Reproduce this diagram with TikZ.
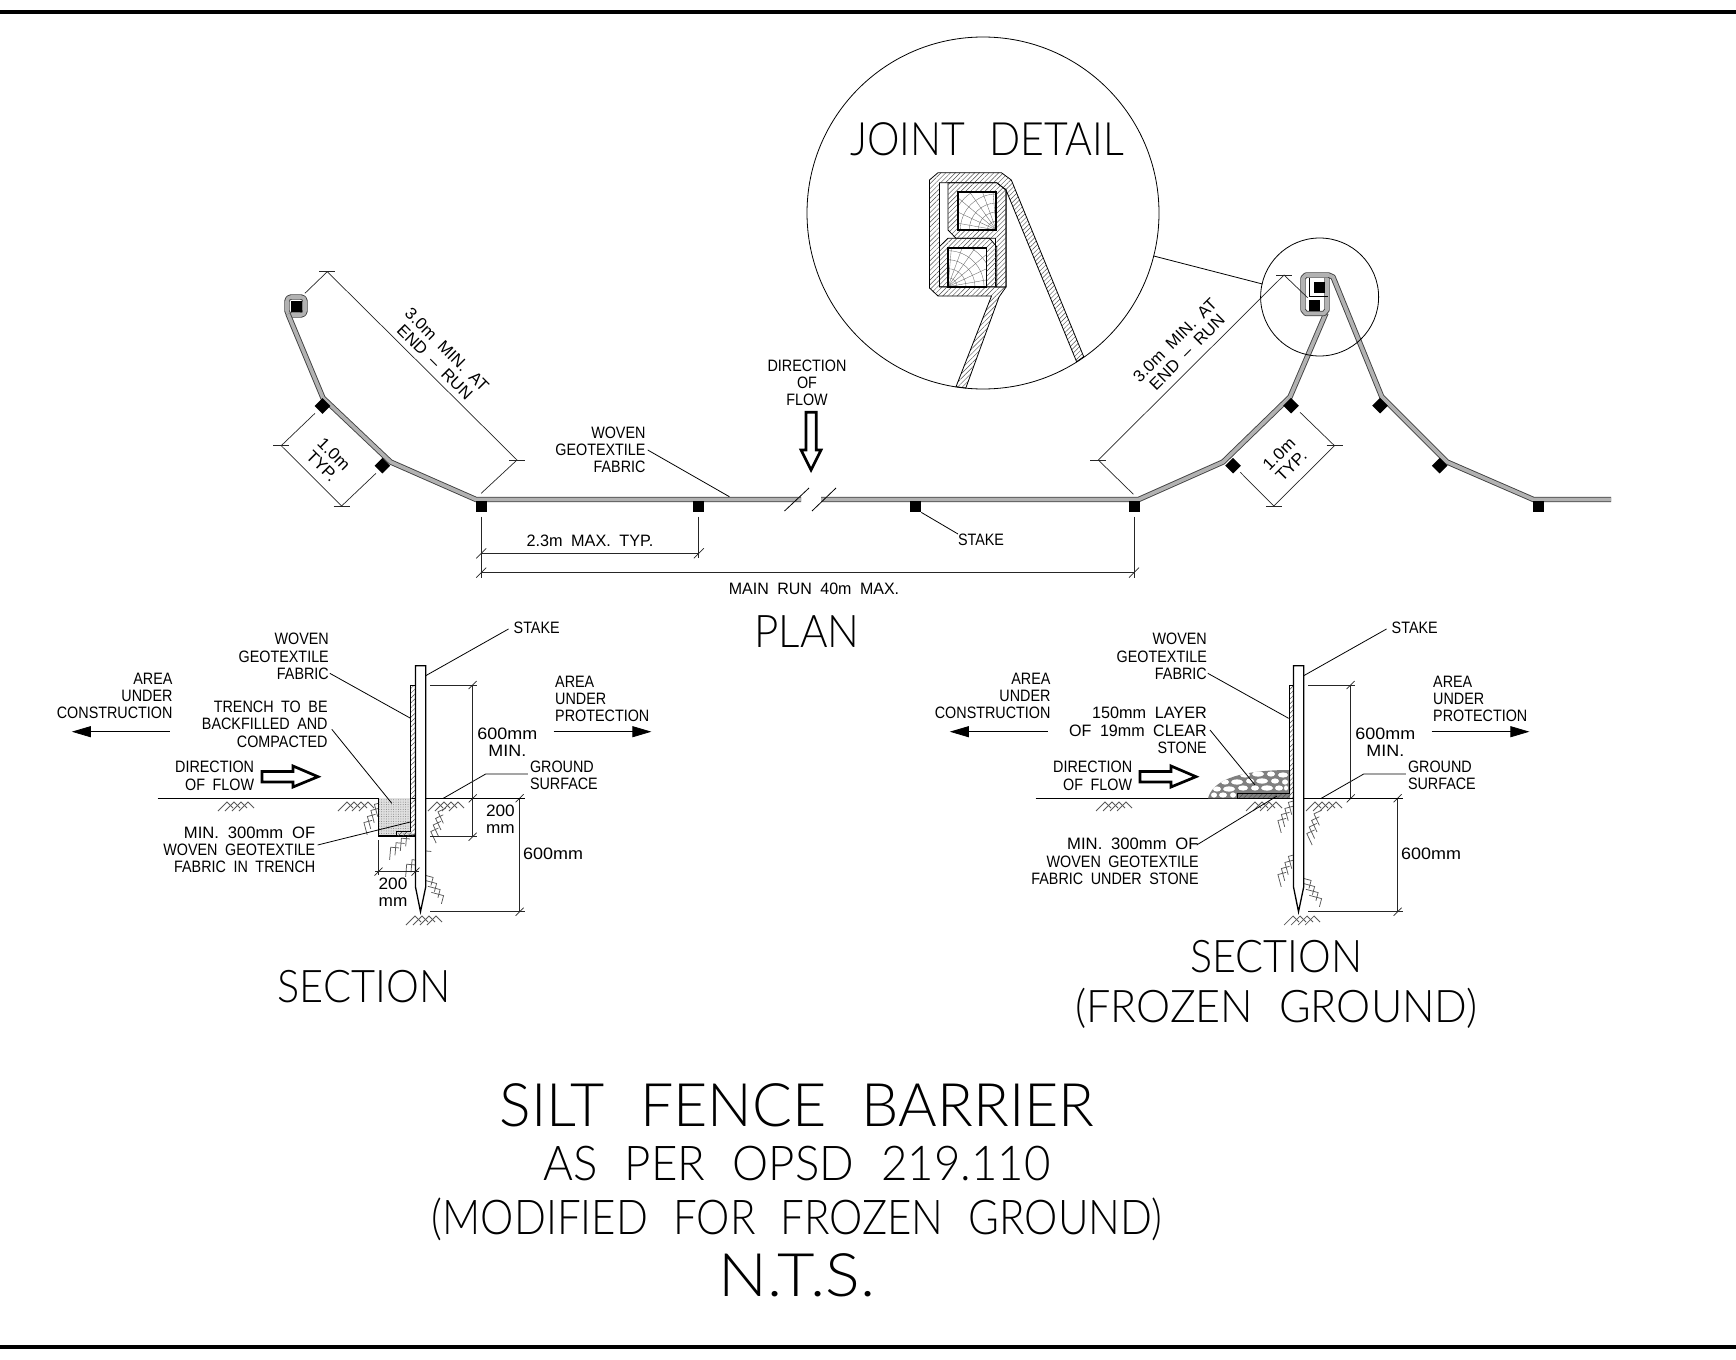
\documentclass[tikz,border=0pt]{standalone}
\usepackage{fontspec}
\setmainfont[FakeStretch=0.87,WordSpace=1.9]{Liberation Sans}
\newfontfamily\titlefont[FakeStretch=0.85,WordSpace=2.2]{Lato Light}
\usetikzlibrary{arrows.meta,patterns.meta}
\newcommand{\widen}[2]{\scalebox{#1}[1]{#2}}
\tikzset{
 lbl/.style={inner sep=0pt,font=\fontsize{16.5}{17.2}\selectfont},
 ttl/.style={inner sep=0pt,font=\titlefont\fontsize{#1}{#1}\selectfont},
 dimline/.style={line width=.7pt,black!85},
 leader/.style={line width=.8pt},
 fenceline/.style={line width=.9pt,black!75,double=black!30,double distance=3.6pt,line join=round},
 fabric/.style={draw,line width=.8pt,pattern={Lines[angle=45,distance=3.4pt,line width=.45pt]},pattern color=black!70},
 stakebox/.style={fill=black,minimum size=11pt,inner sep=0pt},
 stakedia/.style={fill=black,minimum size=11pt,inner sep=0pt,rotate=45},
 flow/.style={line width=2.7pt,miter limit=10,fill=white},
 grain/.style={line width=.35pt,black!60},
 earth/.pic={
  \foreach \i in {0,1,2,3} {
   \draw[line width=.75pt,black!65] (\i*7-16,6) -- ++(9,-9) -- ++(6,6);
  }
 }
}
\begin{document}
\begin{tikzpicture}[x=1pt,y=-1pt]
\useasboundingbox (0,0) rectangle (1736,1359);
% sheet lines
\draw[line width=3.5pt] (0,12) -- (1736,12);
\draw[line width=3.5pt] (0,1347) -- (1736,1347);
% plan
\draw[fenceline,rounded corners=4pt] (287,297) rectangle (305,315);
\draw[fenceline] (288,314) -- (323,398) -- (390.6,462) -- (476,499.5) -- (801,499.5);
\draw[fenceline] (821,499.5) -- (1138.6,499.5) -- (1223,462) -- (1290,397) -- (1326,313);
\draw[fenceline] (1611,499.5) -- (1533.4,499.5) -- (1447,462) -- (1381.7,396.7) -- (1333,277)
 -- (1328.5,275) -- (1306,275) -- (1303,278) -- (1303,310) -- (1306,313.5) -- (1324,313.5)
 -- (1327,310) -- (1327,278);
\draw[line width=.8pt] (1309,278) -- (1309,296) -- (1328,296);
\foreach \n/\x/\y in {endA/296/306,A/481/506.7,B/698.8/506.7,C/915.6/506.7,D/1134/506.7,E/1538.6/506.7,jointA/1319.7/287.3,jointB/1314.5/305}
 \node[stakebox] (stake\n) at (\x,\y) {};
\foreach \n/\x/\y in {A/322.5/406,B/382.4/465.7,C/1233/465.7,D/1291/405.7,E/1380/405.7,F/1439.7/465.7}
 \node[stakedia] (dia\n) at (\x,\y) {};
\draw[leader] (784.5,511) -- (809,488);
\draw[leader] (812,511) -- (836,488);
% plan dimensions
\draw[dimline] (304.9,293.3) -- (327.3,271.7) -- (517,460) -- (481.2,493.3);
\draw[dimline] (315,413.3) -- (281.2,445.7) -- (341.6,506) -- (376,473.3);
\draw[dimline] (1307.6,297.7) -- (1284,275) -- (1098.3,460) -- (1133.4,494.3);
\draw[dimline] (1300,412.3) -- (1334.5,445.7) -- (1273.8,506) -- (1240.3,472.3);
\foreach \x/\y in {327.3/271.7,517/460,281.2/445.7,341.6/506,1284/275,1098.3/460,1334.5/445.7,1273.8/506}
 \draw[dimline] (\x-8,\y) -- (\x+8,\y);
\draw[dimline] (481.2,516.7) -- (481.2,578);
\draw[dimline] (698.8,516.7) -- (698.8,558);
\draw[dimline] (1134,516.7) -- (1134,578);
\draw[dimline] (481.2,553.3) -- (698.8,553.3);
\draw[dimline] (481.2,572.7) -- (1134,572.7);
\foreach \x/\y in {481.2/553.3,698.8/553.3,481.2/572.7,1134/572.7}
 \draw[dimline] (\x-5,\y+5) -- (\x+5,\y-5);
\node[lbl,rotate=-45,align=center] (lblrunA) at (441,356) {\widen{1.17}{3.0m MIN. AT}\\\widen{1.17}{END -- RUN}};
\node[lbl,rotate=45,align=center] (lblrunB) at (1181,346) {\widen{1.17}{3.0m MIN. AT}\\\widen{1.17}{END -- RUN}};
\node[lbl,rotate=-45,align=center] (lbltypA) at (328,460) {\widen{1.2}{1.0m}\\\widen{1.2}{TYP.}};
\node[lbl,rotate=45,align=center] (lbltypB) at (1285,460) {\widen{1.2}{1.0m}\\\widen{1.2}{TYP.}};
\node[lbl,xscale=1.13] (lblmax) at (590,541) {2.3m MAX. TYP.};
\node[lbl,xscale=1.115] (lblmain) at (814,589) {MAIN RUN 40m MAX.};
\node[lbl,anchor=east,align=right] (lblwoven) at (645.7,450) {WOVEN\\GEOTEXTILE\\FABRIC};
\draw[leader] (lblwoven.east)+(2,0) -- (729.4,496.7);
\node[lbl] (lblstake) at (981,540) {STAKE};
\draw[leader] (stakeC.south east) -- (958,534);
\node[lbl,align=center] (lblflow) at (807,382.7) {DIRECTION\\OF\\FLOW};
\draw[flow] (806,412.3) -- (816.3,412.3) -- (816.3,450) -- (821,450) -- (811,470) -- (801,450) -- (806,450) -- cycle;
\node[ttl=45,xscale=1.1] (lblplan) at (807,632) {PLAN};
% joint detail
\draw[line width=.8pt] (983,213) circle (176);
\draw[line width=.8pt] (1319.6,297) circle (59);
\draw[line width=.8pt] (1153.7,256) -- (1262.4,284);
\node[ttl=46,xscale=1.05] (lbljoint) at (987,139) {JOINT DETAIL};
\draw[fabric] (956,386.7) -- (991.5,296) -- (938,296) -- (929.5,288) -- (929.5,180) -- (938,172.7) -- (1001.4,172.7) -- (1011.3,180)
 -- (1083.7,356.7) -- (1076.6,361.7) -- (1006,190) -- (1006,287) -- (999,297) -- (965.8,388) -- cycle;
\draw[fill=white,line width=.8pt] (939.4,182.7) -- (996.7,182.7) -- (1006,190) -- (1006,287) -- (939.4,287) -- cycle;
\draw[fabric] (948,182.7) -- (996.7,182.7) -- (1006,190) -- (1006,287) -- (995.5,287) -- (995.5,238.3) -- (956,238.3) -- (948,230) -- cycle;
\draw[fabric] (939.4,246.7) -- (948,238.3) -- (989.6,238.3) -- (996.7,246.7) -- (996.7,286.7) -- (939.4,286.7) -- cycle;
\fill[white] (958,191.7) rectangle (996.3,230);
\fill[white] (948,248.3) rectangle (986.4,286.7);
\begin{scope}
\clip (958,191.7) rectangle (996.3,230);
\foreach \r in {9,18,...,54} \draw[grain] (996.3,230) circle (\r);
\foreach \a in {190,205,...,265} \draw[grain] (996.3,230) -- ++(\a:60);
\end{scope}
\begin{scope}
\clip (948,248.3) rectangle (986.4,286.7);
\foreach \r in {9,18,...,54} \draw[grain] (948,286.7) circle (\r);
\foreach \a in {275,290,...,355} \draw[grain] (948,286.7) -- ++(\a:60);
\end{scope}
\draw[line width=1.8pt] (958,191.7) rectangle (996.3,230);
\draw[line width=1.8pt] (948,248.3) rectangle (986.4,286.7);
% both sections
\foreach \dx in {0,878} {
\begin{scope}[xshift=\dx pt]
\node[lbl,anchor=east,align=right] (lblfab\dx) at (329,656.5) {WOVEN\\GEOTEXTILE\\FABRIC};
\draw[leader] (329.8,673.3) -- (410.6,718.3);
\node[lbl,anchor=west] (lblst\dx) at (513.5,628) {STAKE};
\draw[leader] (lblst\dx.west)+(-5,1) -- (425.7,675.7);
\node[lbl,anchor=east,align=right] (lblcon\dx) at (172.7,696) {AREA\\UNDER\\CONSTRUCTION};
\node[lbl,anchor=west,align=left] (lblpro\dx) at (555,699) {AREA\\UNDER\\PROTECTION};
\draw[line width=.8pt,-{Triangle[length=19pt,width=11pt]}] (169.8,731.7) -- (71.8,731.7);
\draw[line width=.8pt,-{Triangle[length=19pt,width=11pt]}] (553.5,731.7) -- (651.4,731.7);
\node[lbl,anchor=east,align=right] (lbldir\dx) at (254.3,775.8) {DIRECTION\\OF FLOW};
\draw[flow] (262,771.5) -- (293,771.5) -- (293,766) -- (318,776.7) -- (293,787) -- (293,782) -- (262,782) -- cycle;
\node[lbl,anchor=west,align=left] (lblgr\dx) at (529.8,775.2) {GROUND\\SURFACE};
\draw[leader] (527.8,774) -- (485.7,774) -- (443.3,798.3);
\node[lbl,align=center,xscale=1.25] (lblmin\dx) at (507.3,742) {600mm\\MIN.};
\node[lbl,anchor=west,xscale=1.25] (lblsix\dx) at (522.9,854.3) {600mm};
\draw[dimline] (430,685) -- (476.7,685);
\draw[dimline] (430,911.7) -- (525,911.7);
\draw[dimline] (519.6,798.3) -- (519.6,911.7);
\foreach \x/\y in {472.7/685,472.7/798.3,519.6/798.3,519.6/911.7}
 \draw[dimline] (\x-4,\y+4) -- (\x+4,\y-4);
\end{scope}
}
% section with trench
\foreach \x/\y in {234/805,354/805,444/805,422/919}
 \pic at (\x,\y) {earth};
\foreach \x/\y/\r in {370/818/60,398/845/40,414/862/40,436/826/70,434/885/-60}
 \pic[rotate=\r] at (\x,\y) {earth};
\draw[line width=1pt] (157.5,798.3) -- (525,798.3);
\fill[black!12] (378.3,798.3) rectangle (410,836);
\fill[pattern={Dots[distance=2.4pt,radius=.5pt]},pattern color=black!50] (378.3,798.3) rectangle (410,836);
\draw[line width=1.1pt] (378.3,798.3) -- (378.3,836) -- (415.5,836);
\draw[fabric] (410,685) -- (415.5,685) -- (415.5,836) -- (396.7,836) -- (396.7,831.7) -- (410,831.7) -- cycle;
\draw[line width=1.3pt,fill=white] (415.5,665.7) -- (425.7,665.7) -- (425.7,887) -- (420.5,911.7) -- (415.5,887) -- cycle;
\node[lbl,anchor=east,align=right] (lbltrench) at (327.8,724.3) {TRENCH TO BE\\BACKFILLED AND\\COMPACTED};
\draw[leader] (331.8,729.3) -- (391.8,803.3);
\node[lbl,anchor=east,align=right] (lblwrapA) at (315.5,850) {\widen{1.16}{MIN. 300mm OF}\\WOVEN GEOTEXTILE\\FABRIC IN TRENCH};
\draw[leader] (317.6,845) -- (411.4,821.7);
\node[lbl,align=center,xscale=1.2] (lbltwoA) at (500.4,819) {200\\mm};
\node[lbl,align=center,xscale=1.2] (lbltwoB) at (393,892.5) {200\\mm};
\draw[dimline] (472.7,685) -- (472.7,836.7);
\draw[dimline] (430,836.7) -- (476.7,836.7);
\draw[dimline] (378.5,840) -- (378.5,875);
\draw[dimline] (375,871.7) -- (419,871.7);
\foreach \x/\y in {472.7/836.7,378.5/871.7,415.5/871.7}
 \draw[dimline] (\x-4,\y+4) -- (\x+4,\y-4);
\node[ttl=45,xscale=1.085] (lblsecA) at (364,986.5) {SECTION};
% section on frozen ground
\draw[dimline] (1350.7,685) -- (1350.7,798.3);
\foreach \x/\y in {1112/805,1262/805,1322/805,1300/919}
 \pic at (\x,\y) {earth};
\foreach \x/\y/\r in {1284/816/60,1312/828/70,1284/870/60,1312/888/-60}
 \pic[rotate=\r] at (\x,\y) {earth};
\draw[line width=1pt] (1035.5,798.3) -- (1403,798.3);
\begin{scope}
\clip (1208,798.3) .. controls (1212,783) and (1232,770) .. (1290,770) -- (1290,798.3) -- cycle;
\fill[black!50] (1205,765) rectangle (1295,800);
\foreach \x/\y/\r in {1245/775/5,1258/774/6,1271/774/4,1283/775/5,1225/782/4,1237/782/6,1250/781/4,1262/781/6,1275/781/4,1285/782/3,1217/789/4,1229/789/6,1243/788/5,1255/788/4,1267/788/6,1279/788/4,1286/788/2,1214/795/3,1223/795/4,1233/795/3}
 \fill[white] (\x,\y) ellipse (\r pt and 2.6pt);
\end{scope}
\draw[fabric] (1289.4,685) -- (1294.3,685) -- (1294.3,798.3) -- (1237.6,798.3) -- (1237.6,793.3) -- (1289.4,793.3) -- cycle;
\draw[line width=1.3pt,fill=white] (1293.5,665.7) -- (1303.7,665.7) -- (1303.7,887) -- (1298.5,911.7) -- (1293.5,887) -- cycle;
\node[lbl,anchor=east,align=right] (lblstone) at (1207,730.5) {\widen{1.13}{150mm LAYER}\\\widen{1.12}{OF 19mm CLEAR}\\STONE};
\draw[leader] (1210,730) -- (1255,785);
\node[lbl,anchor=east,align=right] (lblwrapB) at (1198.8,861.5) {\widen{1.16}{MIN. 300mm OF}\\WOVEN GEOTEXTILE\\FABRIC UNDER STONE};
\draw[leader] (1196.7,845) -- (1277,796);
\node[ttl=45,xscale=1.08] (lblsecB) at (1276.5,956.6) {SECTION};
\node[ttl=45,xscale=1.127] (lblsecC) at (1276.5,1008.6) {(FROZEN GROUND)};
% titles
\node[ttl=60,xscale=1.158] (lbltitle) at (797,1105) {SILT FENCE BARRIER};
\node[ttl=48,xscale=1.117] (lblper) at (797,1163.6) {AS PER OPSD 219.110};
\node[ttl=48,xscale=1.03] (lblmod) at (797,1219) {(MODIFIED FOR FROZEN GROUND)};
\node[ttl=60,xscale=1.27] (lblnts) at (797,1275) {N.T.S.};
\end{tikzpicture}
\end{document}
